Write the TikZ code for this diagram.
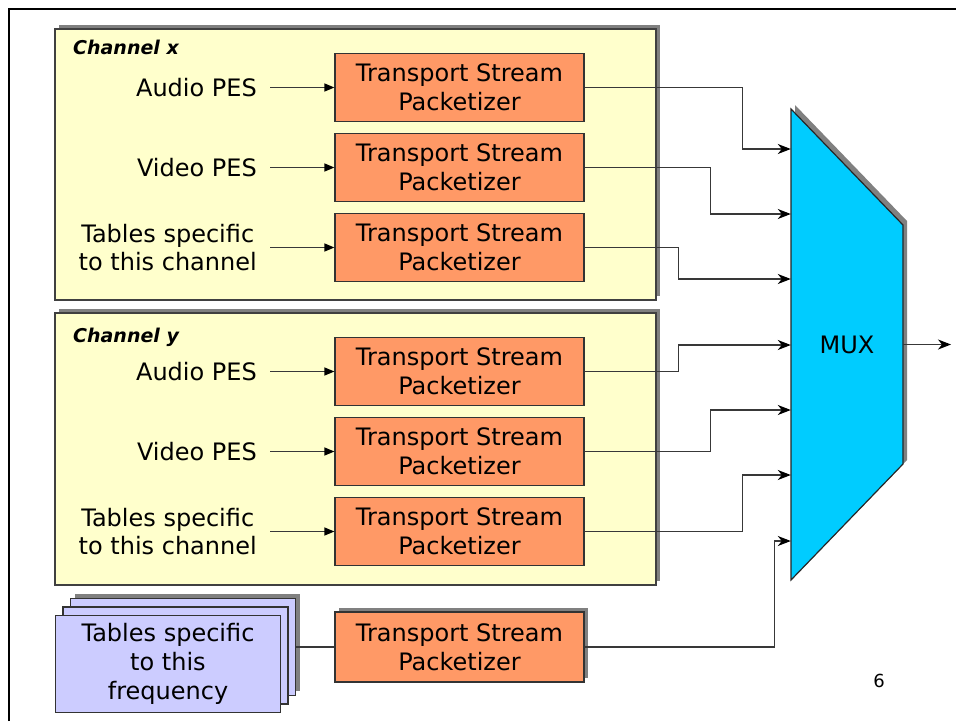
\documentclass[tikz,border=0pt]{standalone}
\usepackage{fontspec}
\setmainfont{DejaVu Sans}
\usetikzlibrary{arrows.meta,calc}
\definecolor{chanfill}{HTML}{FFFFCC}
\definecolor{pktfill}{HTML}{FF9966}
\definecolor{muxfill}{HTML}{00CCFF}
\definecolor{tblfill}{HTML}{CCCCFF}
\definecolor{shadowgray}{HTML}{808080}
\definecolor{wire}{HTML}{383838}

\begin{document}
\begin{tikzpicture}[x=1pt,y=-1pt,
  txt/.style={font=\fontsize{24pt}{28.8pt}\selectfont, text=black},
  chanbox/.style={draw=black!75, line width=1.2pt, fill=chanfill},
  pkt/.style={txt, draw=black!80, line width=1.2pt, fill=pktfill,
    minimum width=249pt, minimum height=68pt, inner sep=0pt, align=center},
  srclabel/.style={txt, anchor=east, inner xsep=13pt, inner ysep=0pt, align=center},
  sheet/.style={txt, draw=black!80, line width=1.2pt, fill=tblfill,
    minimum width=225pt, minimum height=97pt, inner sep=0pt, align=center},
  chantitle/.style={font=\fontsize{19pt}{21pt}\selectfont\bfseries\itshape,
    anchor=base west, inner sep=0pt},
  feed/.style={draw=wire, line width=1.3pt, -{Triangle[length=10pt,width=8pt,color=black]}},
  conn/.style={draw=wire, line width=1.3pt, -{Stealth[length=13pt,width=10pt,inset=4pt,color=black]}},
  plain/.style={draw=wire, line width=1.3pt},
]
\useasboundingbox (0,0) rectangle (956,721);

% slide frame
\draw[line width=2.6pt] (9,721) -- (9,9) -- (956,9);

% channel x group
\fill[shadowgray] (59,25) rectangle (660,296);
\draw[chanbox] (55,29) rectangle (656,300);
\node[chantitle] (tx) at (73,54) {Channel x};

% channel y group
\fill[shadowgray] (59,309) rectangle (660,581);
\draw[chanbox] (55,313) rectangle (656,585);
\node[chantitle] (ty) at (73,342) {Channel y};

% packetizers, channel x
\node[pkt] (px1) at (459.5,87.5)  {Transport Stream\\Packetizer};
\node[pkt] (px2) at (459.5,167.5) {Transport Stream\\Packetizer};
\node[pkt] (px3) at (459.5,247.5) {Transport Stream\\Packetizer};
% packetizers, channel y
\node[pkt] (py1) at (459.5,371.5) {Transport Stream\\Packetizer};
\node[pkt] (py2) at (459.5,451.5) {Transport Stream\\Packetizer};
\node[pkt] (py3) at (459.5,531.5) {Transport Stream\\Packetizer};

% sources, channel x
\node[srclabel] (sx1) at (270,87.5)  {Audio PES};
\node[srclabel] (sx2) at (270,167.5) {Video PES};
\node[srclabel] (sx3) at (270,247.5) {Tables specific\\to this channel};
% sources, channel y
\node[srclabel] (sy1) at (270,371.5) {Audio PES};
\node[srclabel] (sy2) at (270,451.5) {Video PES};
\node[srclabel] (sy3) at (270,531.5) {Tables specific\\to this channel};

\draw[feed] (sx1) -- (px1);
\draw[feed] (sx2) -- (px2);
\draw[feed] (sx3) -- (px3);
\draw[feed] (sy1) -- (py1);
\draw[feed] (sy2) -- (py2);
\draw[feed] (sy3) -- (py3);

% per-frequency tables: a stack of sheets
\fill[shadowgray] (74.5,594) rectangle (299.5,691);
\node[sheet] (tb3) at (183,647) {};
\node[sheet] (tb2) at (175.5,655.5) {};
\node[sheet] (tb1) at (168,664) {Tables specific\\to this\\frequency};

% packetizer for the frequency tables
\fill[shadowgray] (339,608) rectangle (588,678);
\node[pkt, minimum height=70pt] (pb) at (459.5,647) {Transport Stream\\Packetizer};
\draw[plain] (tb3.east) -- (pb.west);

% multiplexer
\fill[shadowgray] (795,105) -- (907,221) -- (907,460) -- (795,576) -- cycle;
\draw[fill=muxfill, draw=black!85, line width=1.2pt]
  (791,109) -- (903,225) -- (903,464) -- (791,580) -- cycle;
\node[txt, minimum width=112pt, minimum height=471pt, inner sep=0pt] (mux) at (847,344.5) {MUX};

% multiplexer inputs
\coordinate (in1) at (mux.west |- 0,149);
\coordinate (in2) at (mux.west |- 0,214);
\coordinate (in3) at (mux.west |- 0,279);
\coordinate (in4) at (mux.west |- 0,345);
\coordinate (in5) at (mux.west |- 0,410);
\coordinate (in6) at (mux.west |- 0,475);
\coordinate (in7) at (mux.west |- 0,541);

\draw[conn] (px1.east) -| ($(in1)+(-48,0)$) -- (in1);
\draw[conn] (px2.east) -| ($(in2)+(-80,0)$) -- (in2);
\draw[conn] (px3.east) -| ($(in3)+(-112,0)$) -- (in3);
\draw[conn] (py1.east) -| ($(in4)+(-112,0)$) -- (in4);
\draw[conn] (py2.east) -| ($(in5)+(-80,0)$) -- (in5);
\draw[conn] (py3.east) -| ($(in6)+(-48,0)$) -- (in6);
\draw[conn] (pb.east)  -| ($(in7)+(-16,0)$) -- (in7);

% multiplexer output
\coordinate (out) at (951,344.5);
\draw[conn] (mux.east) -- (out);

% page number
\node[font=\fontsize{18pt}{20pt}\selectfont] (pg) at (879,681) {6};
\end{tikzpicture}
\end{document}
